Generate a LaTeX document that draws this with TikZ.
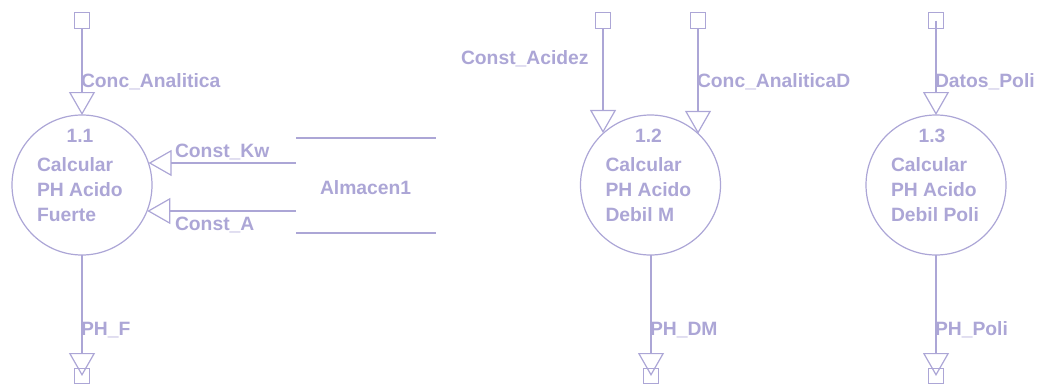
\documentclass[tikz,border=0pt]{standalone}
\usepackage{fontspec}
\setmainfont{Liberation Sans}
\usetikzlibrary{arrows.meta}
\definecolor{dfd}{RGB}{172,166,214}
\tikzset{
  proc/.style={circle, draw=dfd, line width=1.2pt, minimum size=140pt, inner sep=0pt, outer sep=0pt},
  term/.style={rectangle, draw=dfd, line width=1.2pt, minimum size=15.5pt, inner sep=0pt, outer sep=0pt},
  flow/.style={draw=dfd, line width=1.2pt, -{Triangle[open, length=23pt, width=26pt, line width=1.2pt]}},
  plain/.style={draw=dfd, line width=1.2pt},
  lbl/.style={text=dfd, inner sep=0pt, outer sep=0pt, anchor=base west, font=\fontsize{19.3}{23}\selectfont\bfseries},
  num/.style={lbl, anchor=base},
  store/.style={rectangle, inner sep=0pt, outer sep=0pt, minimum width=140pt, minimum height=95pt}
}
\begin{document}
\begin{tikzpicture}[x=1pt, y=-1pt]
\useasboundingbox (0,0) rectangle (1038,388);
% processes
\node[proc] (p11) at (82,185) {};
\node[proc] (p12) at (650.5,185) {};
\node[proc] (p13) at (936,185) {};
% terminators
\node[term] (s11) at (82,20.5) {};
\node[term] (s12a) at (603,20.5) {};
\node[term] (s12b) at (698,20.5) {};
\node[term] (s13) at (936,20.5) {};
\node[term] (o11) at (82,376) {};
\node[term] (o12) at (651,376) {};
\node[term] (o13) at (936,376) {};
% store
\node[store] (st) at (366,185.5) {};
\draw[plain] (st.north west) -- (st.north east);
\draw[plain] (st.south west) -- (st.south east);
\node[lbl] (stl) at (320,194) {Almacen1};
\coordinate (kw) at (296,163);
\coordinate (ca) at (296,211);
% flows
\draw[flow] (s11.south) -- (p11.north);
\draw[flow] (s12a.south) -- (s12a.south |- p12.132.7);
\draw[flow] (s12b.south) -- (s12b.south |- p12.47.3);
\draw[flow] (s13.center) -- (p13.north);
\draw[flow] (kw) -- (kw -| p11.18.3);
\draw[flow] (ca) -- (ca -| p11.-21.8);
\draw[flow] (p11.south) -- (o11.center);
\draw[flow] (p12.south -| o12) -- (o12.center);
\draw[flow] (p13.south) -- (o13.center);
% flow labels
\node[lbl] (l1) at (81,87) {Conc\_Analitica};
\node[lbl] (l2) at (175,157) {Const\_Kw};
\node[lbl] (l3) at (175,230) {Const\_A};
\node[lbl] (l4) at (461,64) {Const\_Acidez};
\node[lbl] (l5) at (697,87) {Conc\_AnaliticaD};
\node[lbl] (l6) at (935,87) {Datos\_Poli};
\node[lbl] (l7) at (81,335) {PH\_F};
\node[lbl] (l8) at (650,335) {PH\_DM};
\node[lbl] (l9) at (935,335) {PH\_Poli};
% process texts
\node[num] (n11) at (80,142) {1.1};
\node[lbl] (a11) at (37,171) {Calcular};
\node[lbl] (b11) at (37,196) {PH Acido};
\node[lbl] (c11) at (37,221) {Fuerte};
\node[num] (n12) at (648.5,142) {1.2};
\node[lbl] (a12) at (605.5,171) {Calcular};
\node[lbl] (b12) at (605.5,196) {PH Acido};
\node[lbl] (c12) at (605.5,221) {Debil M};
\node[num] (n13) at (932,142) {1.3};
\node[lbl] (a13) at (891,171) {Calcular};
\node[lbl] (b13) at (891,196) {PH Acido};
\node[lbl] (c13) at (891,221) {Debil Poli};
\end{tikzpicture}
\end{document}
